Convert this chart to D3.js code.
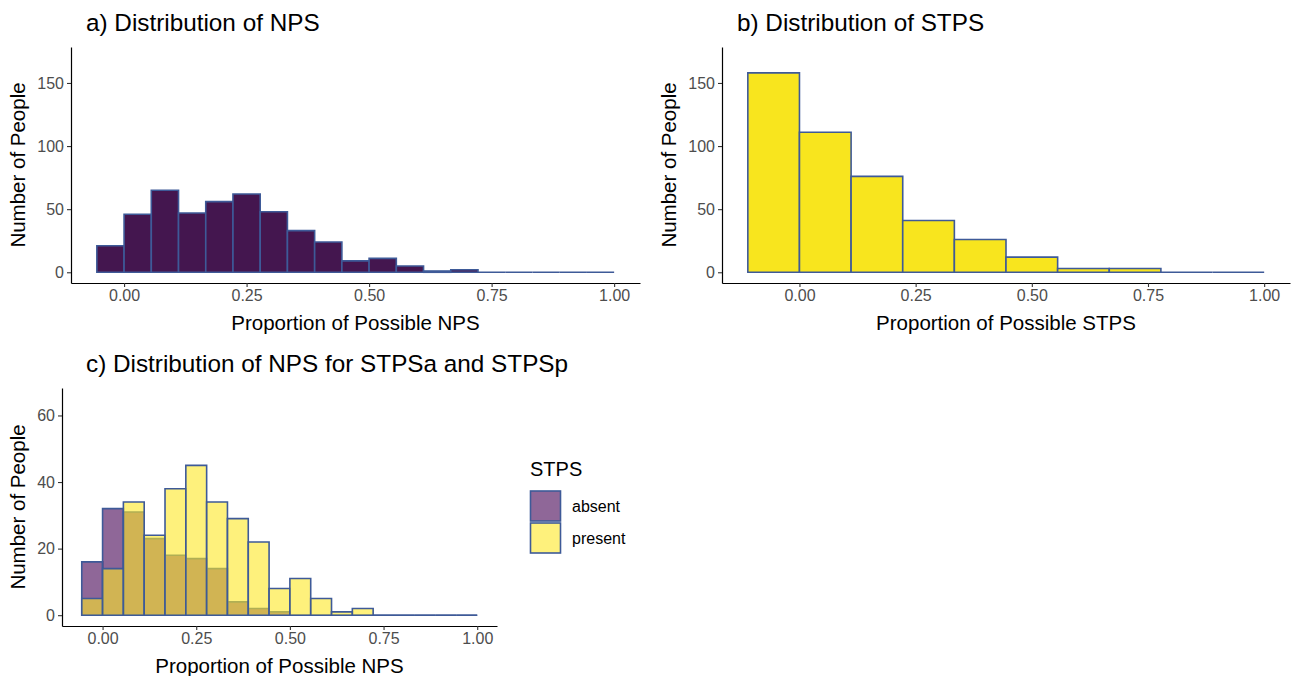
<!DOCTYPE html>
<html lang="en">
<head>
<meta charset="utf-8">
<script src="https://d3js.org/d3.v7.min.js"></script>
<style>
  body { margin: 0; background: #fff; }
  text { font-family: "Liberation Sans", Arial, sans-serif; }
</style>
</head>
<body>
<script>
// histogram counts, bins of width 1/18 starting at -1/18 (NPS) and 1/9 starting at -1/9 (STPS)
var npsCounts = [21, 46, 65, 47, 56, 62, 48, 33, 24, 9, 11, 5, 1, 2, 0, 0, 0, 0, 0];
var stpsCounts = [158, 111, 76, 41, 26, 12, 3, 3, 0, 0];
var absentCounts = [16, 32, 31, 23, 18, 17, 14, 4, 2, 1, 0, 0, 0, 0, 0, 0, 0, 0, 0];
var presentCounts = [5, 14, 34, 24, 38, 45, 34, 29, 22, 8, 11, 5, 1, 2, 0, 0, 0, 0, 0];
var xTicks = [0, 0.25, 0.5, 0.75, 1];
var groups = ["absent", "present"];

var npsStart = -1 / 18, npsWidth = 1 / 18;
var stpsStart = -1 / 9, stpsWidth = 1 / 9;

var width = 1292, height = 676;
var outline = "#3E5A98";

var svg = d3.select("body").append("svg")
  .attr("width", width)
  .attr("height", height);

function toBins(counts, start, w) {
  return counts.map(function (c, i) {
    return { x0: start + i * w, x1: start + (i + 1) * w, n: c };
  });
}

function barPath(x, y) {
  return function (d) {
    return "M" + x(d.x0) + "," + y(0) + "V" + y(d.n) + "H" + x(d.x1) + "V" + y(0) + "Z";
  };
}

// draws axes + titles for one panel, returns the scales
function panel(opt) {
  var x = d3.scaleLinear().domain(opt.xDomain).range([opt.left, opt.right]);
  var y = d3.scaleLinear().domain(opt.yDomain).range([opt.bottom, opt.top]);
  var g = svg.append("g");

  opt.series.forEach(function (s) {
    g.selectAll(null)
      .data(toBins(s.counts, opt.start, opt.binW))
      .join("path")
      .attr("d", barPath(x, y))
      .attr("fill", s.fill)
      .attr("fill-opacity", s.alpha)
      .attr("stroke", outline)
      .attr("stroke-width", 1.6);
  });

  var xa = g.append("g")
    .attr("transform", "translate(0," + opt.bottom + ")")
    .call(d3.axisBottom(x).tickValues(xTicks).tickFormat(d3.format(".2f"))
      .tickSizeInner(4).tickSizeOuter(0).tickPadding(3));
  var ya = g.append("g")
    .attr("transform", "translate(" + opt.left + ",0)")
    .call(d3.axisLeft(y).tickValues(opt.yTicks).tickSizeInner(4).tickSizeOuter(0).tickPadding(3));
  [xa, ya].forEach(function (a) {
    a.select(".domain").attr("stroke", "#000").attr("stroke-width", 1.2);
    a.selectAll(".tick line").attr("stroke", "#333").attr("stroke-width", 1.1);
    a.selectAll(".tick text").attr("fill", "#4D4D4D").style("font-size", "16px");
  });

  g.append("text")
    .attr("x", opt.titleX).attr("y", opt.top - 16)
    .style("font-size", "24.3px")
    .text(opt.title);
  g.append("text")
    .attr("x", (opt.left + opt.right) / 2).attr("y", opt.bottom + 47)
    .attr("text-anchor", "middle")
    .style("font-size", "20.5px")
    .text(opt.xLabel);
  g.append("text")
    .attr("transform", "translate(" + opt.yLabelX + "," + ((opt.top + opt.bottom) / 2) + ") rotate(-90)")
    .attr("text-anchor", "middle")
    .style("font-size", "20.5px")
    .text("Number of People");
  return { x: x, y: y };
}

panel({
  left: 71, right: 640, top: 47, bottom: 283,
  xDomain: [-0.1083, 1.0528], yDomain: [-8.5, 178.5],
  start: npsStart, binW: npsWidth, yTicks: [0, 50, 100, 150],
  series: [{ counts: npsCounts, fill: "#44164F", alpha: 1 }],
  title: "a) Distribution of NPS", titleX: 86, yLabelX: 25,
  xLabel: "Proportion of Possible NPS"
});

panel({
  left: 722, right: 1290, top: 47, bottom: 283,
  xDomain: [-0.1667, 1.0556], yDomain: [-8.5, 178.5],
  start: stpsStart, binW: stpsWidth, yTicks: [0, 50, 100, 150],
  series: [{ counts: stpsCounts, fill: "#F8E51E", alpha: 1 }],
  title: "b) Distribution of STPS", titleX: 737, yLabelX: 676,
  xLabel: "Proportion of Possible STPS"
});

var colour = d3.scaleOrdinal().domain(groups).range(["#440154", "#FDE725"]);

panel({
  left: 62, right: 497, top: 388, bottom: 626,
  xDomain: [-0.1083, 1.0528], yDomain: [-3.25, 68.25],
  start: npsStart, binW: npsWidth, yTicks: [0, 20, 40, 60],
  series: [
    { counts: absentCounts, fill: colour("absent"), alpha: 0.6 },
    { counts: presentCounts, fill: colour("present"), alpha: 0.6 }
  ],
  title: "c) Distribution of NPS for STPSa and STPSp", titleX: 86, yLabelX: 25,
  xLabel: "Proportion of Possible NPS"
});

// legend
var leg = svg.append("g").attr("transform", "translate(530,460)");
leg.append("text").attr("x", 0).attr("y", 16).style("font-size", "20px").text("STPS");
var item = leg.selectAll(".item").data(groups).join("g")
  .attr("transform", function (d, i) { return "translate(0," + (31 + i * 32) + ")"; });
item.append("rect")
  .attr("x", 0.5).attr("y", 0).attr("width", 30).attr("height", 30)
  .attr("fill", function (d) { return colour(d); })
  .attr("fill-opacity", 0.6)
  .attr("stroke", outline).attr("stroke-width", 1.6);
item.append("text")
  .attr("x", 42).attr("y", 15).attr("dy", "0.35em")
  .style("font-size", "16px")
  .text(function (d) { return d; });
</script>
</body>
</html>
